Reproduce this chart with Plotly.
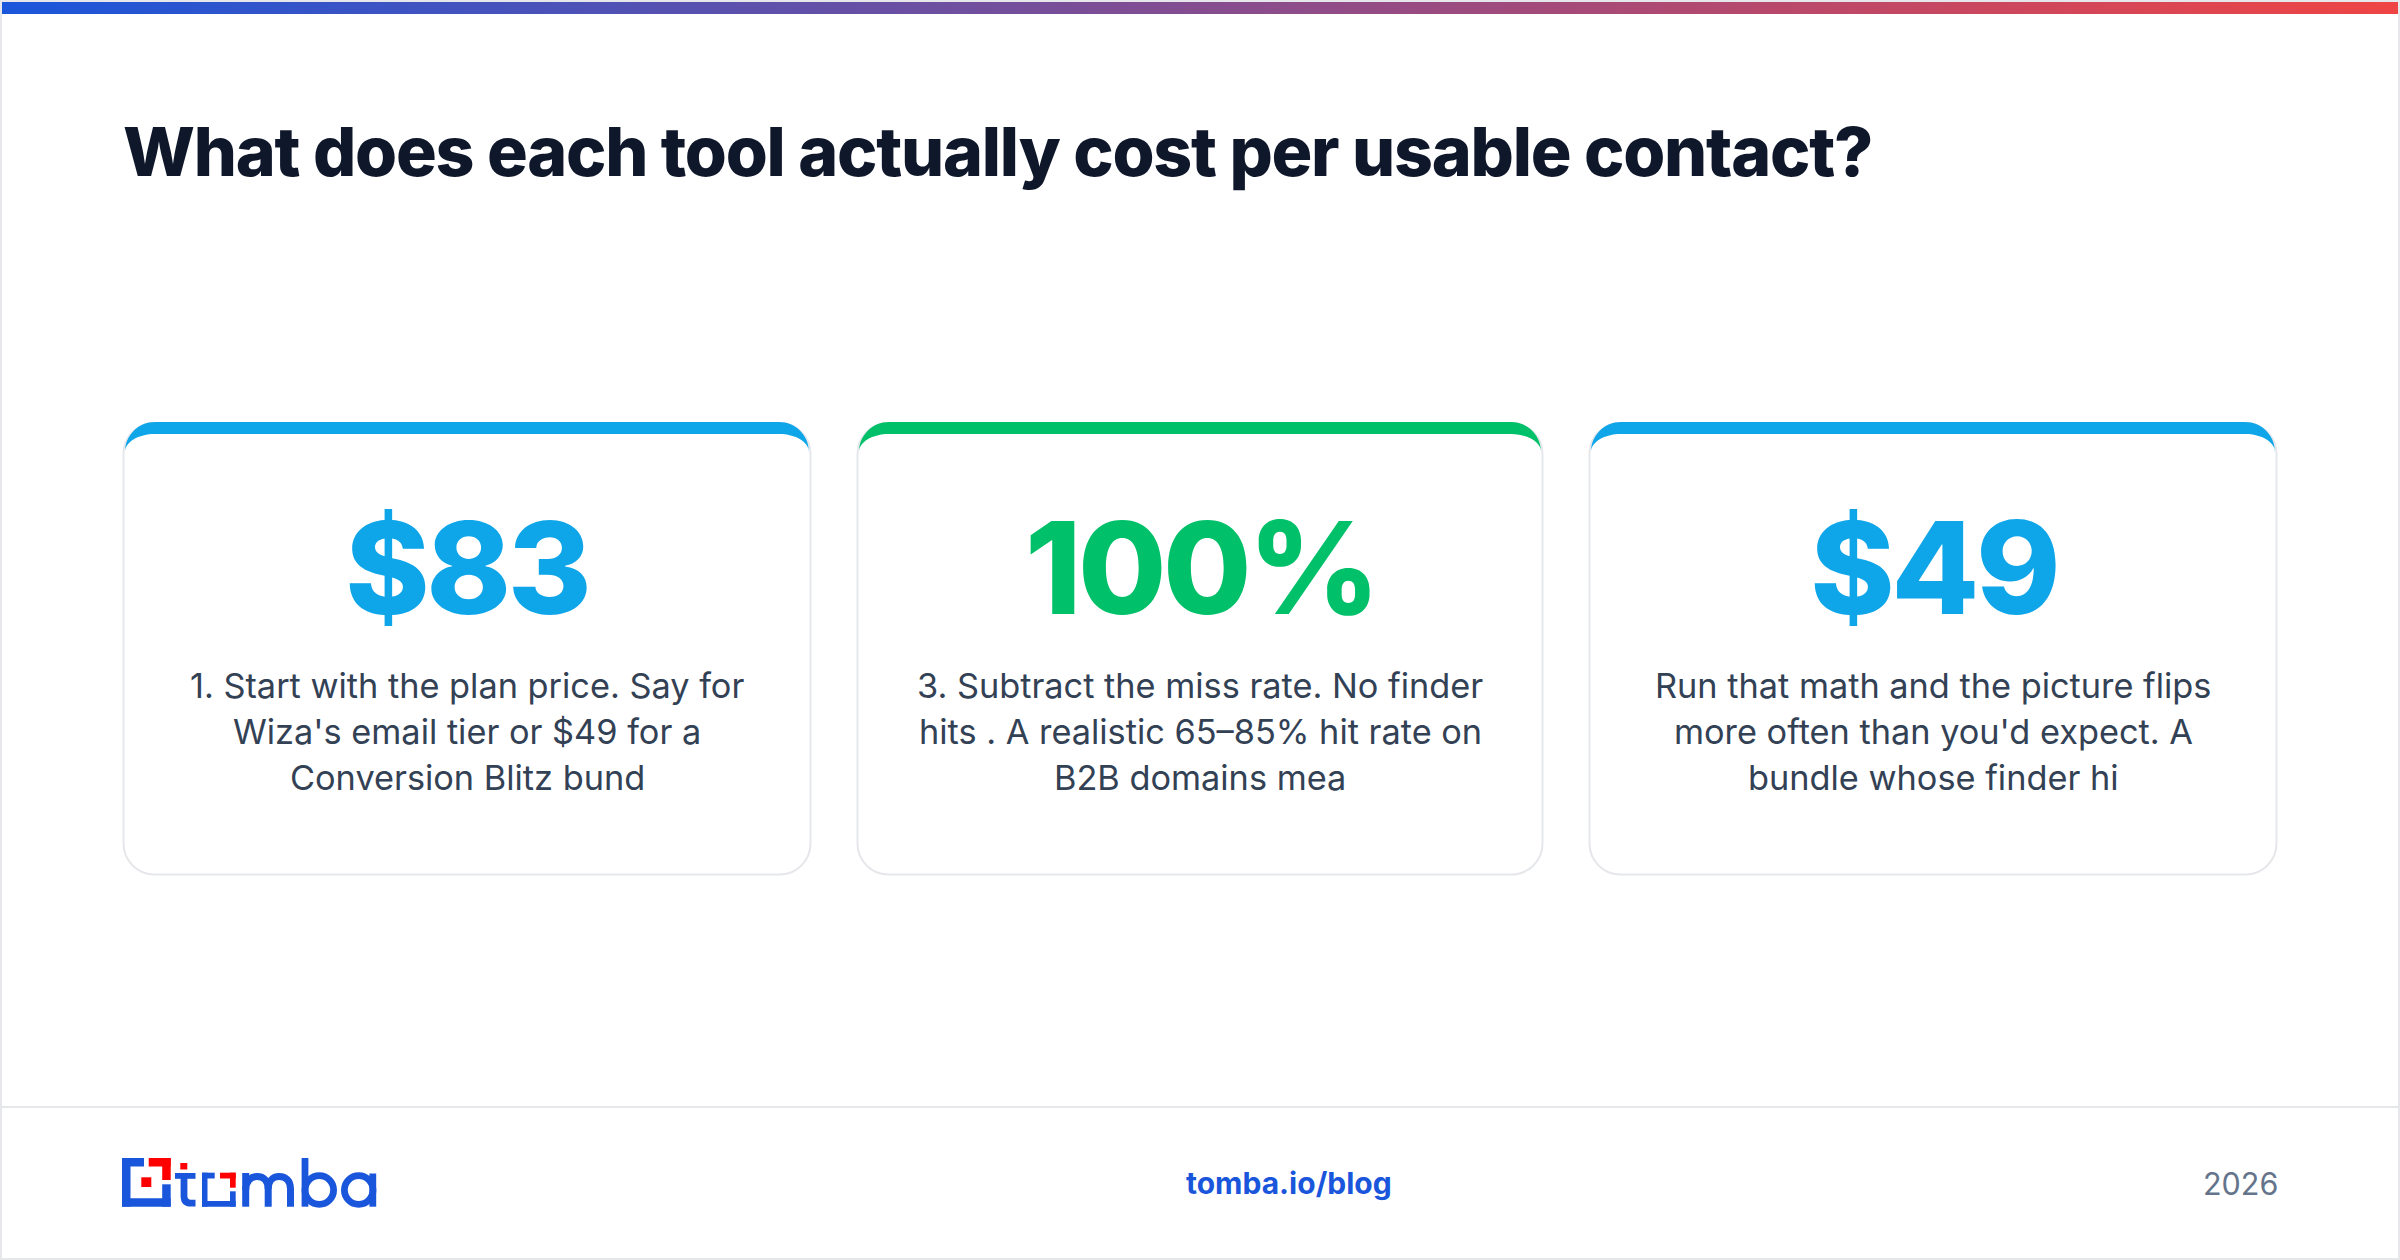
import plotly.graph_objects as go

# ---- content ----
TITLE = "What does each tool actually cost per usable contact?"
STATS = ["$83", "100%", "$49"]
STAT_COLORS = ["#0ea5e9", "#00c16a", "#0ea5e9"]
CARD_TEXTS = [
    ["1. Start with the plan price. Say for", "Wiza's email tier or $49 for a", "Conversion Blitz bund"],
    ["3. Subtract the miss rate. No finder", "hits . A realistic 65–85% hit rate on", "B2B domains mea"],
    ["Run that math and the picture flips", "more often than you'd expect. A", "bundle whose finder hi"],
]
FOOTER_LINK = "tomba.io/blog"
FOOTER_YEAR = "2026"

# ---- layout geometry (pixels) ----
W, H = 2400, 1260
CARDS_X = [(122.5, 811.5), (856.5, 1543.5), (1588.5, 2277.5)]
CARD_TOP, CARD_BOTTOM = 422, 875.5
FONT = "Inter"
BLUE, RED = "#1a56db", "#ff0000"
K = 0.5523


def rrect(x0, y0, x1, y1, r):
    c = r * (1 - K)
    return (f"M{x0+r},{y0} L{x1-r},{y0} C{x1-c},{y0} {x1},{y0+c} {x1},{y0+r} L{x1},{y1-r} "
            f"C{x1},{y1-c} {x1-c},{y1} {x1-r},{y1} L{x0+r},{y1} C{x0+c},{y1} {x0},{y1-c} {x0},{y1-r} "
            f"L{x0},{y0+r} C{x0},{y0+c} {x0+c},{y0} {x0+r},{y0} Z")


def circle(cx, cy, r):
    c = r * K
    return (f"M{cx-r},{cy} C{cx-r},{cy-c} {cx-c},{cy-r} {cx},{cy-r} C{cx+c},{cy-r} {cx+r},{cy-c} {cx+r},{cy} "
            f"C{cx+r},{cy+c} {cx+c},{cy+r} {cx},{cy+r} C{cx-c},{cy+r} {cx-r},{cy+c} {cx-r},{cy} Z")


def accent(a, b, top, thick, r):
    ky, kx = (r - thick) * (1 - K), r * (1 - K)
    inner = top + thick
    y = top + r
    return (f"M{a},{y} C{a},{top+kx} {a+kx},{top} {a+r},{top} L{b-r},{top} C{b-kx},{top} {b},{top+kx} {b},{y} "
            f"C{b},{inner+ky} {b-kx},{inner} {b-r},{inner} L{a+r},{inner} C{a+kx},{inner} {a},{inner+ky} {a},{y} Z")


shapes = []
annotations = []


def path(d, fill=None, line=None, lw=0):
    shapes.append(dict(type="path", path=d, xref="x", yref="y", layer="below",
                       fillcolor=fill if fill else "rgba(0,0,0,0)",
                       line=dict(color=line if line else "rgba(0,0,0,0)", width=lw)))


def rect(x0, y0, x1, y1, fill):
    shapes.append(dict(type="rect", x0=x0, y0=y0, x1=x1, y1=y1, xref="x", yref="y",
                       layer="below", fillcolor=fill, line=dict(width=0)))


def text(x, y, s, size, color, weight=400, anchor="center"):
    annotations.append(dict(x=x, y=y, xref="x", yref="y", text=s, showarrow=False,
                            xanchor=anchor, yanchor="middle", align=anchor,
                            font=dict(family=FONT, size=size, color=color, weight=weight)))


# page frame and footer rule
rect(0, 0, W, H, "#e5e7eb")
rect(2, 2, W - 2, H - 2, "#ffffff")
rect(2, 1106, W - 2, 1108, "#e5e7eb")

# cards
for (x0, x1), stat, color, lines in zip(CARDS_X, STATS, STAT_COLORS, CARD_TEXTS):
    for g in range(14, 0, -1):
        path(rrect(x0 - g * 2, CARD_TOP + 6 - g * 2, x1 + g * 2, CARD_BOTTOM + 6 + g * 2, 32 + g * 2),
             fill="rgba(15,23,42,0.001)")
    path(rrect(x0 + 1, CARD_TOP + 1, x1 - 1, CARD_BOTTOM - 1, 31), fill="#ffffff", line="#e5e7eb", lw=2)
    path(accent(x0 + 2.5, x1 - 2.5, 422, 12, 30), fill=color)
    cx = (x0 + x1) / 2
    text(cx, 567, stat, 128, color, 800)
    for i, line in enumerate(lines):
        text(cx, 685 + 46 * i, line, 34.3, "#334155", 400)

# logo
rect(122, 1158, 144, 1166.5, BLUE)
rect(122, 1158, 130.5, 1206.7, BLUE)
rect(122, 1198.2, 170.7, 1206.7, BLUE)
rect(162.2, 1184.3, 170.7, 1206.7, BLUE)
rect(148.7, 1158, 170.7, 1166.5, RED)
rect(162.2, 1158, 170.7, 1180, RED)
rect(141.3, 1177.3, 151.3, 1187, RED)
rect(180.3, 1163, 187.3, 1169.5, RED)
path("M184,1173.5 V1196 Q184,1203.2 191,1203.2 H195.5", line=BLUE, lw=6.8)
rect(175, 1173, 195.5, 1178.8, BLUE)
rect(202, 1172.7, 214.7, 1178.5, BLUE)
rect(202, 1172.7, 207.5, 1206.7, BLUE)
rect(202, 1201, 235.7, 1206.7, BLUE)
rect(230, 1191.3, 235.7, 1206.7, BLUE)
rect(220, 1172.7, 235.7, 1178.5, RED)
rect(230, 1172.7, 235.7, 1187.7, RED)
path("M245.7,1206.7 V1173", line=BLUE, lw=7)
path("M245.7,1190 C245.7,1181 251,1176.5 257,1176.5 C264,1176.5 268.2,1181 268.2,1189 V1206.7", line=BLUE, lw=7)
path("M268.2,1189 C268.2,1181 273,1176.5 279,1176.5 C286,1176.5 290.5,1181 290.5,1189 V1206.7", line=BLUE, lw=7)
path("M305,1158 V1206.7", line=BLUE, lw=6.8)
path(circle(319.3, 1190, 14.3), line=BLUE, lw=6.8)
path(circle(358.7, 1190, 14.3), line=BLUE, lw=6.8)
path("M372.8,1173.5 V1206.7", line=BLUE, lw=6.8)

# texts
text(120.5, 150.5, TITLE, 68, "#0f172a", 800, "left")
text(1289, 1183, FOOTER_LINK, 30, BLUE, 700)
text(2279.5, 1183, FOOTER_YEAR, 30.5, "#64748b", 400, "right")

# top gradient strip
strip = go.Scatter(x=[2, W - 2, W - 2, 2, 2], y=[2, 2, 14, 14, 2], mode="lines", fill="toself",
                   line=dict(width=0), hoverinfo="skip", showlegend=False,
                   fillgradient=dict(type="horizontal", colorscale=[[0, "#1a56db"], [1, "#ef4444"]]))

fig = go.Figure(strip)
fig.update_layout(
    width=W, height=H, margin=dict(l=0, r=0, t=0, b=0), paper_bgcolor="#ffffff", plot_bgcolor="rgba(0,0,0,0)",
    xaxis=dict(range=[0, W], visible=False, fixedrange=True),
    yaxis=dict(range=[H, 0], visible=False, fixedrange=True),
    shapes=shapes, annotations=annotations, showlegend=False,
)
JS = """
document.body.style.margin='0';document.body.style.overflow='hidden';
document.querySelectorAll('.annotation-text').forEach(function(t){
  var fs=parseFloat(t.style.fontSize);
  if(fs>100){t.style.letterSpacing='-3.5px';}
  else if(fs>60){t.style.letterSpacing='-1.23px';}
});
"""
fig.write_html("out.html", config=dict(displayModeBar=False), post_script=JS)
